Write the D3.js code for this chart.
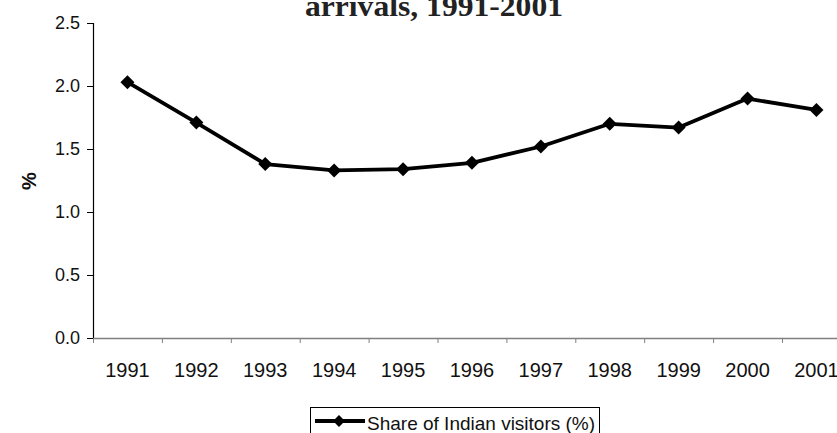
<!DOCTYPE html>
<html>
<head>
<meta charset="utf-8">
<script src="https://cdn.jsdelivr.net/npm/d3@7"></script>
<style>
  html, body { margin: 0; padding: 0; background: #fff; overflow: hidden; }
  svg { display: block; }
</style>
</head>
<body>
<svg id="chart" width="837" height="433"></svg>
<script>
// Share of Indian visitors in total arrivals, by year
const years = ["1991","1992","1993","1994","1995","1996","1997","1998","1999","2000","2001"];
const shareValues = [2.03, 1.71, 1.38, 1.33, 1.34, 1.39, 1.52, 1.70, 1.67, 1.90, 1.81];
const yTickValues = [0, 0.5, 1.0, 1.5, 2.0, 2.5];
const titleText = "arrivals, 1991-2001";
const seriesName = "Share of Indian visitors (%)";
const yAxisTitle = "%";

const svg = d3.select("#chart");
const sans = "'Liberation Sans', Arial, sans-serif";

const plot = { left: 93, top: 23, bottom: 338, bandW: 68.9 };
plot.right = plot.left + plot.bandW * years.length;

const x = d3.scaleBand().domain(years).range([plot.left, plot.right]).padding(0);
const y = d3.scaleLinear().domain([0, 2.5]).range([plot.bottom, plot.top]);
const xEdge = d3.scaleLinear().domain([0, years.length]).range([plot.left, plot.right]);

// Title (its upper part runs off the top of the page)
svg.append("text")
  .attr("x", 305).attr("y", 16)
  .attr("textLength", 258)
  .attr("lengthAdjust", "spacingAndGlyphs")
  .style("font-family", "'Liberation Serif', 'Times New Roman', serif")
  .style("font-weight", "bold")
  .style("font-size", "29px")
  .style("fill", "#222")
  .text(titleText);

// Y axis
const yAxis = svg.append("g")
  .attr("transform", `translate(${plot.left},0)`)
  .call(d3.axisLeft(y).tickValues(yTickValues).tickFormat(d3.format(".1f")).tickSize(6).tickPadding(7));
yAxis.select(".domain").attr("stroke", "#000").attr("stroke-width", 1.2);
yAxis.selectAll(".tick line").attr("stroke", "#000");
yAxis.selectAll(".tick text")
  .style("font-family", sans)
  .style("font-size", "18px")
  .style("fill", "#111");

// X axis: ticks between categories
const xTicks = svg.append("g")
  .attr("transform", `translate(0,${plot.bottom})`)
  .call(d3.axisBottom(xEdge).tickValues(d3.range(0, years.length + 1)).tickFormat("").tickSize(5).tickSizeOuter(0));
xTicks.select(".domain").attr("stroke", "#808080").attr("stroke-width", 1.5);
xTicks.selectAll(".tick line").attr("stroke", "#808080");

// X axis category labels
const xLabels = svg.append("g")
  .attr("transform", `translate(0,${plot.bottom})`)
  .call(d3.axisBottom(x).tickSize(0).tickPadding(25));
xLabels.select(".domain").remove();
xLabels.selectAll(".tick text")
  .style("font-family", sans)
  .style("font-size", "20px")
  .style("fill", "#111");

// Y axis title
svg.append("text")
  .attr("transform", "translate(36,181) rotate(-90)")
  .attr("text-anchor", "middle")
  .style("font-family", sans)
  .style("font-weight", "bold")
  .style("font-size", "20px")
  .style("fill", "#111")
  .text(yAxisTitle);

// Series line and markers
const cx = (d, i) => x(years[i]) + x.bandwidth() / 2;
const line = d3.line().x(cx).y(d => y(d));

svg.append("path")
  .datum(shareValues)
  .attr("d", line)
  .attr("fill", "none")
  .attr("stroke", "#000")
  .attr("stroke-width", 3.8)
  .attr("stroke-linejoin", "round");

const diamond = d3.symbol().type(d3.symbolDiamond2).size(125);
svg.append("g")
  .selectAll("path")
  .data(shareValues)
  .join("path")
  .attr("d", diamond)
  .attr("transform", (d, i) => `translate(${cx(d, i)},${y(d)})`)
  .attr("fill", "#000");

// Legend
const legend = svg.append("g");
legend.append("rect")
  .attr("x", 310.5).attr("y", 407.5)
  .attr("width", 289).attr("height", 40)
  .attr("fill", "#fff").attr("stroke", "#000").attr("stroke-width", 1);
legend.append("line")
  .attr("x1", 315).attr("x2", 365).attr("y1", 421).attr("y2", 421)
  .attr("stroke", "#000").attr("stroke-width", 3.8);
legend.append("path")
  .attr("d", d3.symbol().type(d3.symbolDiamond2).size(90))
  .attr("transform", "translate(339,421)")
  .attr("fill", "#000");
legend.append("text")
  .attr("x", 367).attr("y", 430)
  .style("font-family", sans)
  .style("font-size", "19px")
  .style("fill", "#111")
  .text(seriesName);
</script>
</body>
</html>
